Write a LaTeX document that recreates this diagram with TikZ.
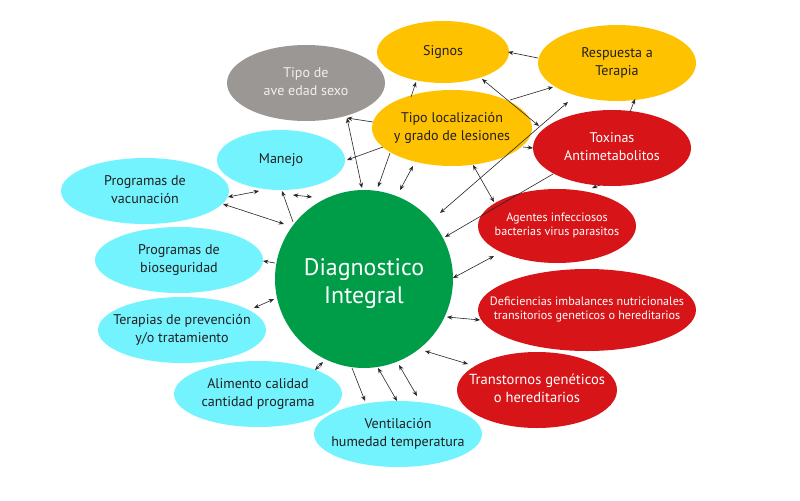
\documentclass[tikz,border=0pt]{standalone}
\usepackage{fontspec}
\setmainfont{PT Sans}
\usetikzlibrary{arrows.meta,shapes.geometric}
\definecolor{cyanE}{RGB}{114,243,254}
\definecolor{yelE}{RGB}{254,194,0}
\definecolor{redE}{RGB}{215,20,24}
\definecolor{greenE}{RGB}{0,157,72}
\definecolor{grayE}{RGB}{155,151,148}
\definecolor{txtE}{RGB}{35,31,32}
\definecolor{lineE}{RGB}{40,40,40}
\newcommand{\mklines}[1]{\makebox[0pt]{\begin{tabular}{@{}c@{}}#1\end{tabular}}}
\tikzset{
  bub/.style={ellipse, inner sep=0pt, outer sep=0pt},
  cyanbub/.style={bub, fill=cyanE, text=txtE, font=\fontsize{8}{9.8}\selectfont},
  yelbub/.style={bub, fill=yelE, text=txtE, font=\fontsize{8}{9.8}\selectfont},
  redbub/.style={bub, fill=redE, text=white, font=\fontsize{8}{9.8}\selectfont},
  redsmall/.style={redbub, font=\fontsize{6.9}{8.1}\selectfont},
  graybub/.style={bub, fill=grayE, text=white!94!black, font=\fontsize{8}{9.8}\selectfont},
  conn/.style={draw=lineE, line width=0.35pt},
  one/.style={conn, -{Stealth[length=3pt,width=2.4pt]}},
  two/.style={conn, {Stealth[length=3pt,width=2.4pt]}-{Stealth[length=3pt,width=2.4pt]}},
}
\begin{document}
\begin{tikzpicture}[x=0.02cm,y=-0.02cm]
\useasboundingbox (0,0) rectangle (800,500);

% bubbles
\node[circle, fill=greenE, minimum size=178*0.02cm, inner sep=0pt, text=white, font=\fontsize{13.6}{16}\selectfont] (dx) at (364,279) {\mklines{\rule{0pt}{17pt}Diagnostico\\Integral}};
\node[yelbub, minimum width=132*0.02cm, minimum height=62*0.02cm] (signos) at (443,52) {Signos};
\node[graybub, minimum width=158*0.02cm, minimum height=76*0.02cm] (ave) at (306,83) {\mklines{Tipo de\\ave edad sexo}};
\node[yelbub, minimum width=160*0.02cm, minimum height=76*0.02cm] (lesion) at (452,128) {\mklines{Tipo localización\\y grado de lesiones}};
\node[yelbub, minimum width=158*0.02cm, minimum height=76*0.02cm] (resp) at (617,63) {\mklines{Respuesta a\\Terapia}};
\node[redbub, minimum width=158*0.02cm, minimum height=76*0.02cm] (tox) at (612,148) {\mklines{Toxinas\\Antimetabolitos}};
\node[redsmall, minimum width=158*0.02cm, minimum height=74*0.02cm] (agent) at (557,226) {\mklines{Agentes infecciosos\\bacterias virus parasitos}};
\node[redsmall, minimum width=218*0.02cm, minimum height=82*0.02cm] (defic) at (587,310) {\mklines{Deficiencias imbalances nutricionales\\transitorios geneticos o hereditarios}};
\node[redbub, font=\fontsize{8.3}{9.8}\selectfont, minimum width=160*0.02cm, minimum height=76*0.02cm] (trans) at (537,390) {\mklines{Transtornos genéticos\\o hereditarios}};
\node[cyanbub, minimum width=168*0.02cm, minimum height=66*0.02cm] (vent) at (398,434) {\mklines{Ventilación\\humedad temperatura}};
\node[cyanbub, minimum width=168*0.02cm, minimum height=66*0.02cm] (alim) at (258,394) {\mklines{Alimento calidad\\cantidad programa}};
\node[cyanbub, minimum width=168*0.02cm, minimum height=66*0.02cm] (terap) at (182,330) {\mklines{Terapias de prevención\\y/o tratamiento}};
\node[cyanbub, minimum width=168*0.02cm, minimum height=66*0.02cm] (bios) at (179,260) {\mklines{Programas de\\bioseguridad}};
\node[cyanbub, minimum width=168*0.02cm, minimum height=66*0.02cm] (vac) at (145,191) {\mklines{Programas de\\vacunación}};
\node[cyanbub, minimum width=128*0.02cm, minimum height=60*0.02cm] (manejo) at (281,160) {Manejo};

% connector end points
\coordinate (p1a) at (373,122); \coordinate (p1b) at (347,118);
\coordinate (p2a) at (347,118); \coordinate (p2b) at (362,188);
\coordinate (p3a) at (383,147); \coordinate (p3b) at (347,160);
\coordinate (p4a) at (390,153); \coordinate (p4b) at (378,187);
\coordinate (p5a) at (413,166); \coordinate (p5b) at (400,190);
\coordinate (p6a) at (411,97);  \coordinate (p6b) at (416,82);
\coordinate (p7a) at (482,79);  \coordinate (p7b) at (539,126);
\coordinate (p8a) at (510,100); \coordinate (p8b) at (553,87);
\coordinate (p9a) at (538,58);  \coordinate (p9b) at (508,52);
\coordinate (p10a) at (568,102); \coordinate (p10b) at (440,213);
\coordinate (p11a) at (630,112); \coordinate (p11b) at (635,99);
\coordinate (p12a) at (523,147); \coordinate (p12b) at (533,148);
\coordinate (p13a) at (553,174); \coordinate (p13b) at (445,237);
\coordinate (p14a) at (600,185); \coordinate (p14b) at (592,188);
\coordinate (p15a) at (473,165); \coordinate (p15b) at (494,202);
\coordinate (p16a) at (453,278); \coordinate (p16b) at (494,256);
\coordinate (p17a) at (447,317); \coordinate (p17b) at (480,320);
\coordinate (p18a) at (425,351); \coordinate (p18b) at (468,364);
\coordinate (p20a) at (352,368); \coordinate (p20b) at (365,401);
\coordinate (p21a) at (378,368); \coordinate (p21b) at (397,401);
\coordinate (p22a) at (399,365); \coordinate (p22b) at (417,396);
\coordinate (p23a) at (323,362); \coordinate (p23b) at (315,370);
\coordinate (p24a) at (228,197); \coordinate (p24b) at (259,191);
\coordinate (p25a) at (223,204); \coordinate (p25b) at (284,224);
\coordinate (p26a) at (293,222); \coordinate (p26b) at (282,191);
\coordinate (p27a) at (293,195); \coordinate (p27b) at (312,197);
\coordinate (p28a) at (275,263); \coordinate (p28b) at (263,261);
\coordinate (p29a) at (254,308); \coordinate (p29b) at (274,299);

% connectors
\draw[one] (p1a) -- (p1b);
\draw[two] (p2a) -- (p2b);
\draw[one] (p3a) -- (p3b);
\draw[one] (p4a) -- (p4b);
\draw[two] (p5a) -- (p5b);
\draw[one] (p6a) -- (p6b);
\draw[two] (p7a) -- (p7b);
\draw[one] (p8a) -- (p8b);
\draw[one] (p9a) -- (p9b);
\draw[two] (p10a) -- (p10b);
\draw[one] (p11a) -- (p11b);
\draw[one] (p12a) -- (p12b);
\draw[one] (p13a) -- (p13b);
\draw[one] (p14a) -- (p14b);
\draw[two] (p15a) -- (p15b);
\draw[two] (p16a) -- (p16b);
\draw[two] (p17a) -- (p17b);
\draw[two] (p18a) -- (p18b);
\draw[one] (p20a) -- (p20b);
\draw[two] (p21a) -- (p21b);
\draw[two] (p22a) -- (p22b);
\draw[two] (p23a) -- (p23b);
\draw[two] (p24a) -- (p24b);
\draw[two] (p25a) -- (p25b);
\draw[one] (p26a) -- (p26b);
\draw[two] (p27a) -- (p27b);
\draw[one] (p28a) -- (p28b);
\draw[two] (p29a) -- (p29b);
\end{tikzpicture}
\end{document}
